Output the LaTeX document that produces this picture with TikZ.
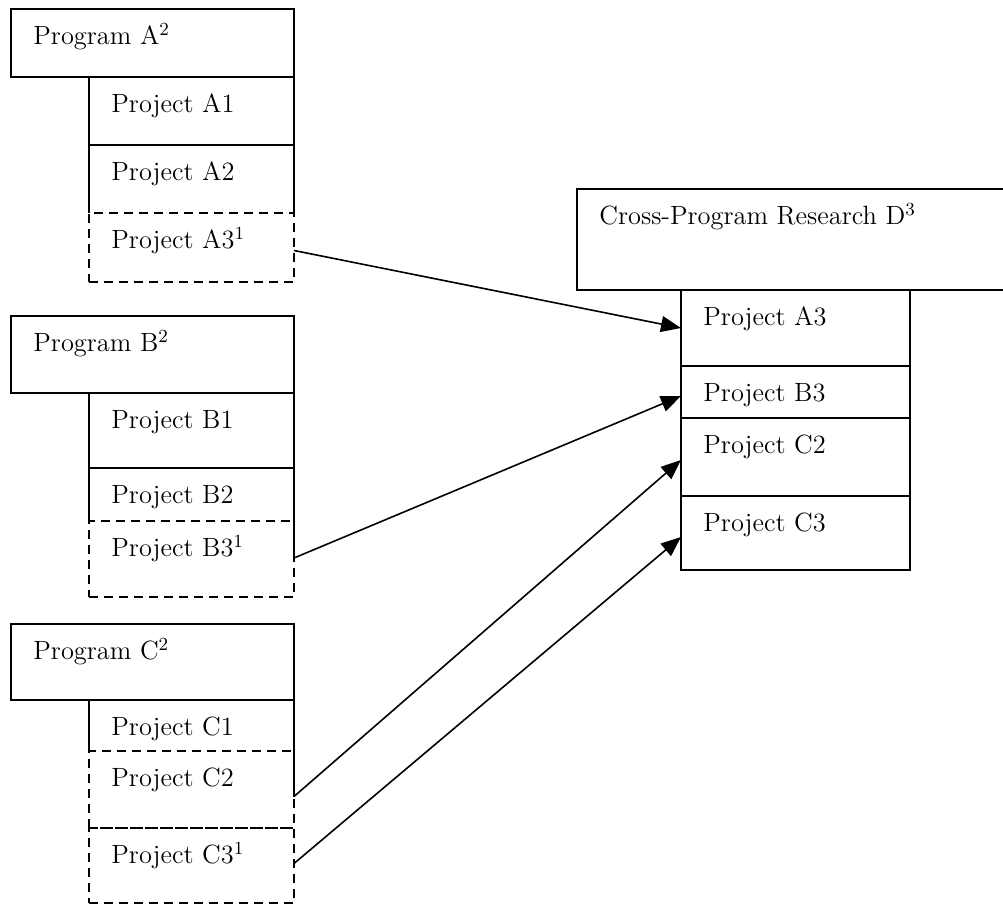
\documentclass[tikz,border=0pt]{standalone}
\usetikzlibrary{arrows.meta,calc}

% #1 name, #2 left, #3 top, #4 right, #5 bottom, #6 style, #7 text
\newcommand\mkbox[7]{%
  \pgfmathsetmacro\bxw{(#4-#2)*0.5}%
  \pgfmathsetmacro\bxh{(#5-#3)*0.5}%
  \node[#6, minimum width=\bxw pt, minimum height=\bxh pt, anchor=north west] (#1) at (#2,#3) {};%
  \node[lbl] (#1-t) at ([xshift=11pt,yshift=-17.5pt]#1.north west) {#7};%
}

\begin{document}
\begin{tikzpicture}[x=0.5pt,y=-0.5pt,
  shapebox/.style={rectangle, inner sep=0pt, outer sep=0pt},
  box/.style={shapebox, draw, line width=1pt},
  openbox/.style={shapebox},
  dashbox/.style={shapebox, draw, line width=1pt, dash pattern=on 4.5pt off 3pt},
  edge/.style={line width=1pt},
  lbl/.style={anchor=base west, inner sep=0pt, font=\fontsize{13.2}{16}\selectfont},
  link/.style={line width=0.8pt, -{Triangle[length=10pt,width=8pt]}}]
\useasboundingbox (0,0) rectangle (1003,905);

% Program A
\mkbox{pa}{11}{9}{294}{77}{box}{Program A\textsuperscript{2}}
\mkbox{a1}{89}{77}{294}{145}{box}{Project A1}
\mkbox{a2}{89}{145}{294}{213}{openbox}{Project A2}
\mkbox{a3}{89}{213}{294}{282}{dashbox}{Project A3\textsuperscript{1}}
\draw[edge] (a2.south west) |- (a2.north east) -- (a2.south east);

% Program B
\mkbox{pb}{11}{316}{294}{393}{box}{Program B\textsuperscript{2}}
\mkbox{b1}{89}{393}{294}{468}{box}{Project B1}
\mkbox{b2}{89}{468}{294}{521}{openbox}{Project B2}
\mkbox{b3}{89}{521}{294}{597}{dashbox}{Project B3\textsuperscript{1}}
\draw[edge] (b2.south west) |- (b2.north east) -- (b2.south east) -- ++(0,32);

% Program C
\mkbox{pc}{11}{624}{294}{700}{box}{Program C\textsuperscript{2}}
\mkbox{c1}{89}{700}{294}{751}{openbox}{Project C1}
\mkbox{c2}{89}{751}{294}{828}{dashbox}{Project C2}
\mkbox{c3}{89}{828}{294}{903}{dashbox}{Project C3\textsuperscript{1}}
\draw[edge] (c1.south west) |- (c1.north east) -- (c1.south east) -- ++(0,46);

% Cross-program research
\mkbox{pd}{577}{189}{1012}{290}{box}{Cross-Program Research D\textsuperscript{3}}
\mkbox{da3}{681}{290}{910}{366}{box}{Project A3}
\mkbox{db3}{681}{366}{910}{418}{box}{Project B3}
\mkbox{dc2}{681}{418}{910}{496}{box}{Project C2}
\mkbox{dc3}{681}{496}{910}{570}{box}{Project C3}

% Links into the cross-program block
\draw[link] ($(a3.east)+(0,3)$) -- ($(da3.west)+(0,0)$);
\draw[link] ($(b3.east)+(0,-1)$) -- ($(db3.west)+(0,4)$);
\draw[link] ($(c2.east)+(0,7)$) -- ($(dc2.west)+(0,3)$);
\draw[link] ($(c3.east)+(0,-2)$) -- ($(dc3.west)+(0,4)$);
\end{tikzpicture}
\end{document}
